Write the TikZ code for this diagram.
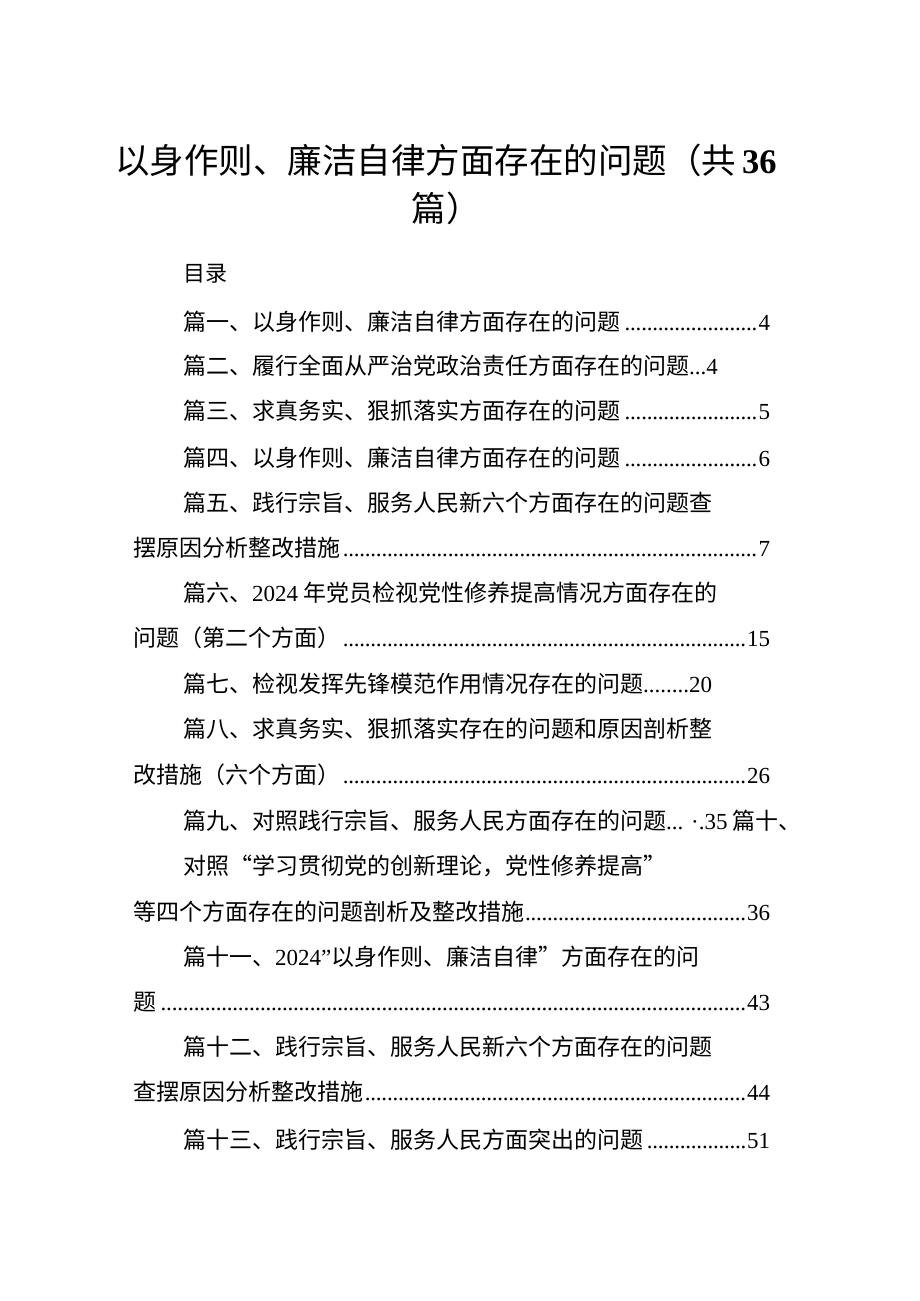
\documentclass[tikz,border=0pt]{standalone}
\usepackage{fontspec}
\setmainfont{Noto Sans CJK SC}
\newfontfamily\numf{Liberation Serif}
\newcommand{\n}[1]{{\numf #1}}
\newcommand{\ldr}{\leaders\hbox to 0.24em{\hss{\numf .}\hss}\hfill}
\tikzset{
  entry/.style={anchor=base west,inner sep=0pt,font=\fontsize{23}{26}\selectfont},
  tocline/.style={entry,text width=#1, align=left},
}
\newcommand{\toc}[4]{\node[tocline=770pt-#1pt] (#4) at (#1,#2) {\hbox to \linewidth{#3}};}
\begin{document}
\begin{tikzpicture}[x=1pt,y=-1pt]
\useasboundingbox[fill=white] (0,0) rectangle (920,1301);
\node[anchor=base,inner sep=0pt,font=\fontsize{34.5}{38}\selectfont] (t1) at (446,173) {以身作则、廉洁自律方面存在的问题（共\,{\numf\bfseries 36}};
\node[anchor=base,inner sep=0pt,font=\fontsize{34.5}{38}\selectfont] (t2) at (446,221) {篇）};
\node[entry,font=\fontsize{22}{24}\selectfont] (ml) at (183,281) {目录};
\toc{183}{330}{篇一、以身作则、廉洁自律方面存在的问题\ldr\n{4}}{e1}
\toc{183}{374}{篇二、履行全面从严治党政治责任方面存在的问题\n{...4}\hfill}{e2}
\toc{183}{419}{篇三、求真务实、狠抓落实方面存在的问题\ldr\n{5}}{e3}
\toc{183}{466}{篇四、以身作则、廉洁自律方面存在的问题\ldr\n{6}}{e4}
\node[entry] (e5) at (183,511) {篇五、践行宗旨、服务人民新六个方面存在的问题查};
\toc{133}{556}{摆原因分析整改措施\ldr\n{7}}{e5b}
\node[entry] (e6) at (183,601) {篇六、\n{2024 }年党员检视党性修养提高情况方面存在的};
\toc{133}{646}{问题（第二个方面）\ldr\n{15}}{e6b}
\node[entry] (e7) at (183,692) {篇七、检视发挥先锋模范作用情况存在的问题\n{........20}};
\node[entry] (e8) at (183,737) {篇八、求真务实、狠抓落实存在的问题和原因剖析整};
\toc{133}{783}{改措施（六个方面）\ldr\n{26}}{e8b}
\node[entry] (e9) at (183,829) {篇九、对照践行宗旨、服务人民方面存在的问题\n{... ·.35} 篇十、};
\node[entry] (e10) at (183,874) {对照“学习贯彻党的创新理论，党性修养提高”};
\toc{133}{920}{等四个方面存在的问题剖析及整改措施\ldr\n{36}}{e10b}
\node[entry] (e11) at (183,965) {篇十一、\n{2024”}以身作则、廉洁自律”方面存在的问};
\toc{133}{1010}{题\ldr\n{43}}{e11b}
\node[entry] (e12) at (183,1055) {篇十二、践行宗旨、服务人民新六个方面存在的问题};
\toc{133}{1100}{查摆原因分析整改措施\ldr\n{44}}{e12b}
\toc{183}{1148}{篇十三、践行宗旨、服务人民方面突出的问题\ldr\n{51}}{e13}
\end{tikzpicture}
\end{document}
